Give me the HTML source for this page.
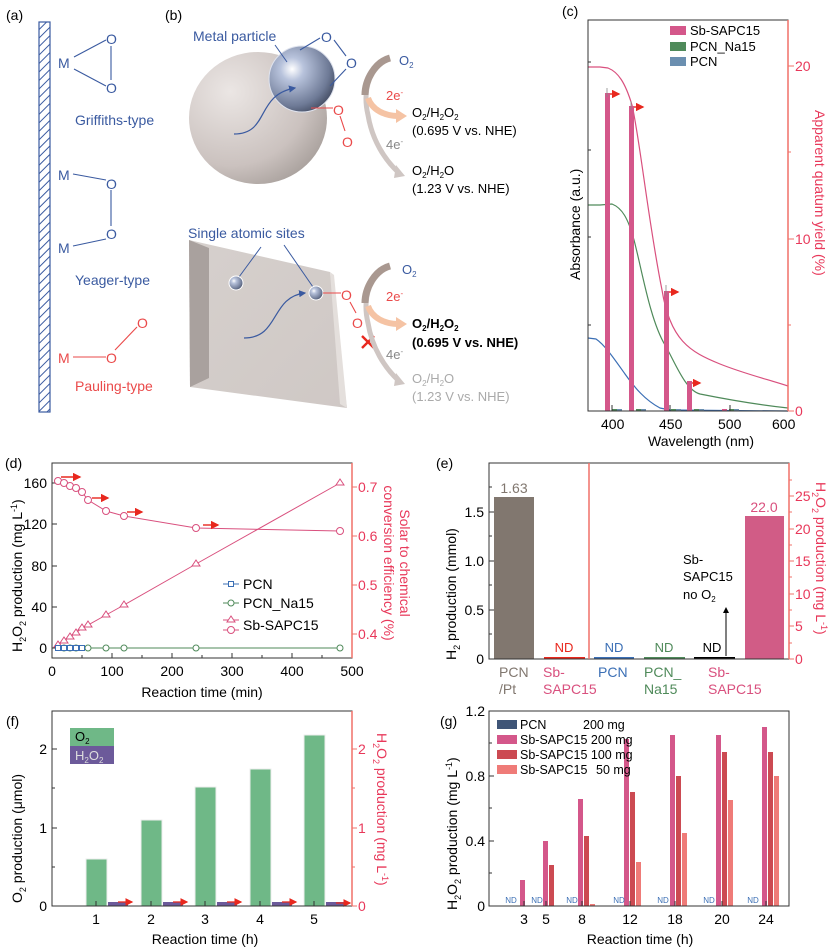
<!DOCTYPE html>
<html><head><meta charset="utf-8"><style>
body{margin:0;background:#fff}
svg{display:block;font-family:"Liberation Sans",Arial,sans-serif}
</style></head><body>
<svg width="838" height="951" viewBox="0 0 838 951" xmlns="http://www.w3.org/2000/svg">
<defs>
<pattern id="hatch" width="6" height="6" patternUnits="userSpaceOnUse" patternTransform="rotate(45)">
<rect width="6" height="6" fill="#fff"/><line x1="0" y1="0" x2="0" y2="6" stroke="#3a5aa0" stroke-width="2"/></pattern>
<radialGradient id="beige" cx="0.3" cy="0.3" r="0.8"><stop offset="0" stop-color="#ebe6e4"/><stop offset="0.7" stop-color="#cbc2bf"/><stop offset="1" stop-color="#a8a09c"/></radialGradient>
<radialGradient id="metal" cx="0.35" cy="0.35" r="0.7"><stop offset="0" stop-color="#ffffff"/><stop offset="0.25" stop-color="#b8c3dc"/><stop offset="0.8" stop-color="#6e7a96"/><stop offset="1" stop-color="#4a536a"/></radialGradient>
<linearGradient id="plate" x1="0" y1="0" x2="1" y2="1"><stop offset="0" stop-color="#d6d0cd"/><stop offset="1" stop-color="#cfc8c5"/></linearGradient>
<marker id="ra" markerWidth="6" markerHeight="6" refX="5" refY="3" orient="auto"><path d="M0,0 L6,3 L0,6 z" fill="#e8281e"/></marker>
<marker id="ka" markerWidth="6" markerHeight="6" refX="5" refY="3" orient="auto"><path d="M0,0 L6,3 L0,6 z" fill="#000"/></marker>
<marker id="ba" markerWidth="6" markerHeight="6" refX="5" refY="3" orient="auto"><path d="M0,0 L6,3 L0,6 z" fill="#3a5aa0"/></marker>
</defs>

<!-- ===== (a) ===== -->
<text x="6" y="20" font-size="14">(a)</text>
<rect x="39" y="22" width="11" height="390" fill="url(#hatch)" stroke="#3a5aa0" stroke-width="1.2"/>
<g fill="#3a5aa0" font-size="14">
<text x="58" y="68">M</text><text x="106" y="44">O</text><text x="106" y="93">O</text>
<text x="58" y="180">M</text><text x="106" y="189">O</text><text x="106" y="239">O</text><text x="58" y="253">M</text>
<text x="75" y="125">Griffiths-type</text><text x="75" y="285">Yeager-type</text>
</g>
<g stroke="#3a5aa0" stroke-width="1.1">
<line x1="74" y1="57" x2="106" y2="40"/><line x1="74" y1="69" x2="106" y2="86"/><line x1="111" y1="46" x2="111" y2="80"/>
<line x1="73" y1="174" x2="106" y2="180"/><line x1="111" y1="190" x2="111" y2="226"/><line x1="73" y1="246" x2="106" y2="239"/>
</g>
<g fill="#ea4a4a" font-size="14"><text x="58" y="363">M</text><text x="106" y="363">O</text><text x="137" y="328">O</text><text x="75" y="391">Pauling-type</text></g>
<g stroke="#ea4a4a" stroke-width="1.1"><line x1="73" y1="357" x2="106" y2="357"/><line x1="115" y1="350" x2="137" y2="327"/></g>

<!-- ===== (b) ===== -->
<text x="165" y="20" font-size="14">(b)</text>
<ellipse cx="258" cy="118" rx="69" ry="66" fill="url(#beige)"/>
<circle cx="302" cy="79" r="33" fill="url(#metal)" stroke="#dfe3ee" stroke-width="1"/>
<text x="193" y="41" font-size="14" fill="#3a5aa0">Metal particle</text>
<line x1="275" y1="45" x2="287" y2="62" stroke="#3a5aa0"/>
<path d="M234,134 C270,134 255,95 295,88" stroke="#3a5aa0" fill="none" stroke-width="1.2" marker-end="url(#ba)"/>
<g fill="#3a5aa0" font-size="14"><text x="321" y="42">O</text><text x="346" y="68">O</text></g>
<g stroke="#3a5aa0" stroke-width="1.1"><line x1="300" y1="50" x2="320" y2="38"/><line x1="334" y1="40" x2="346" y2="56"/><line x1="330" y1="86" x2="346" y2="69"/></g>
<g fill="#ea4a4a" font-size="14"><text x="333" y="115">O</text><text x="342" y="147">O</text></g>
<g stroke="#ea4a4a" stroke-width="1.1"><line x1="311" y1="108" x2="333" y2="108"/><line x1="340" y1="116" x2="345" y2="131"/></g>

<polygon points="189,240 330,272 347,408 190,387" fill="url(#plate)"/>
<polygon points="189,240 209,248 209,378 190,387" fill="#a9a19e"/>
<polygon points="330,272 334,275 347,408 340,404" fill="#e4dfdc"/>
<text x="188" y="238" font-size="14" fill="#3a5aa0">Single atomic sites</text>
<line x1="261" y1="247" x2="239" y2="277" stroke="#3a5aa0"/><line x1="284" y1="245" x2="313" y2="287" stroke="#3a5aa0"/>
<circle cx="236" cy="283" r="7" fill="url(#metal)" stroke="#fff"/>
<circle cx="316" cy="293" r="7" fill="url(#metal)" stroke="#fff"/>
<path d="M244,338 C280,338 270,297 305,293" stroke="#3a5aa0" fill="none" stroke-width="1.2" marker-end="url(#ba)"/>
<g fill="#ea4a4a" font-size="14"><text x="341" y="300">O</text><text x="352" y="328">O</text></g>
<g stroke="#ea4a4a" stroke-width="1.1"><line x1="323" y1="293" x2="341" y2="293"/><line x1="350" y1="302" x2="356" y2="313"/></g>
<g stroke="#e8281e" stroke-width="2.4"><line x1="362" y1="336" x2="374" y2="348"/><line x1="374" y1="336" x2="362" y2="348"/></g>

<g fill="none" stroke-linecap="butt">
<path d="M390,58 C370,65 362,90 368,115 C372,140 385,160 398,172" stroke="#cfc6c3" stroke-width="5"/>
<path d="M390,58 C375,62 365,80 365,95" stroke="#a99890" stroke-width="7"/>
<path d="M368,98 C372,110 385,116 398,116" stroke="#f5c3a4" stroke-width="6"/>
<path d="M390,266 C370,273 362,298 368,323 C372,348 385,368 398,380" stroke="#cfc6c3" stroke-width="5"/>
<path d="M390,266 C375,270 365,288 365,303" stroke="#a99890" stroke-width="7"/>
<path d="M368,306 C372,318 385,324 398,324" stroke="#f5c3a4" stroke-width="6"/>
</g>
<polygon points="396,109 407,116 396,123" fill="#f5c3a4"/><polygon points="396,165 405,176 394,178" fill="#cfc6c3"/>
<polygon points="396,317 407,324 396,331" fill="#f5c3a4"/><polygon points="396,373 405,384 394,386" fill="#cfc6c3"/>
<g font-size="13">
<text x="399" y="65" fill="#3a5aa0">O<tspan font-size="8" dy="3">2</tspan></text>
<text x="386" y="100" fill="#ea4a4a">2e<tspan font-size="8" dy="-5">-</tspan></text>
<text x="386" y="149" fill="#888">4e<tspan font-size="8" dy="-5">-</tspan></text>
<text x="412" y="117">O<tspan font-size="8" dy="3">2</tspan><tspan dy="-3">/H</tspan><tspan font-size="8" dy="3">2</tspan><tspan dy="-3">O</tspan><tspan font-size="8" dy="3">2</tspan></text>
<text x="412" y="135">(0.695 V vs. NHE)</text>
<text x="412" y="175">O<tspan font-size="8" dy="3">2</tspan><tspan dy="-3">/H</tspan><tspan font-size="8" dy="3">2</tspan><tspan dy="-3">O</tspan></text>
<text x="412" y="193">(1.23 V vs. NHE)</text>
<text x="402" y="274" fill="#3a5aa0">O<tspan font-size="8" dy="3">2</tspan></text>
<text x="386" y="301" fill="#ea4a4a">2e<tspan font-size="8" dy="-5">-</tspan></text>
<text x="386" y="359" fill="#888">4e<tspan font-size="8" dy="-5">-</tspan></text>
<text x="412" y="328" font-weight="bold">O<tspan font-size="8" dy="3">2</tspan><tspan dy="-3">/H</tspan><tspan font-size="8" dy="3">2</tspan><tspan dy="-3">O</tspan><tspan font-size="8" dy="3">2</tspan></text>
<text x="412" y="347" font-weight="bold">(0.695 V vs. NHE)</text>
<text x="412" y="383" fill="#aaa">O<tspan font-size="8" dy="3">2</tspan><tspan dy="-3">/H</tspan><tspan font-size="8" dy="3">2</tspan><tspan dy="-3">O</tspan></text>
<text x="412" y="401" fill="#aaa">(1.23 V vs. NHE)</text>
</g>

<!-- ===== (c) ===== -->
<text x="562" y="16" font-size="14">(c)</text>
<g fill="none" stroke-width="1.2">
<path d="M588,67 L600,67 608,68 C618,72 625,82 632,105 C640,140 648,220 662,290 C670,340 690,352 720,364 C745,374 770,380 788,386" stroke="#d9507e"/>
<path d="M588,205 L600,205 612,204 C622,208 628,218 634,240 C642,270 650,320 665,345 C675,362 685,390 700,394 C730,400 760,405 788,408" stroke="#4f8a5a"/>
<path d="M588,338 L596,339 C605,345 615,360 625,374 C635,388 645,400 660,408 L670,410 788,411" stroke="#3b6fb5"/>
</g>
<g fill="#d4578a">
<rect x="605" y="93" width="5" height="318"/><rect x="629" y="106" width="5" height="305"/>
<rect x="664" y="291" width="5" height="120"/><rect x="687" y="381" width="5" height="30"/><rect x="722" y="409" width="5" height="2"/>
</g>
<g fill="#4f8a5a"><rect x="612" y="409" width="5" height="2"/><rect x="636" y="409" width="5" height="2"/><rect x="671" y="409" width="5" height="2"/><rect x="694" y="409" width="5" height="2"/><rect x="729" y="409" width="5" height="2"/></g>
<g fill="#6b8fb0"><rect x="617" y="409" width="5" height="2"/><rect x="641" y="409" width="5" height="2"/><rect x="676" y="409" width="5" height="2"/><rect x="699" y="409" width="5" height="2"/><rect x="734" y="409" width="5" height="2"/></g>
<g stroke="#888" stroke-width="0.8"><line x1="607" y1="88" x2="607" y2="97"/><line x1="631" y1="101" x2="631" y2="110"/><line x1="666" y1="285" x2="666" y2="296"/></g>
<g stroke="#e8281e" stroke-width="1.4" marker-end="url(#ra)">
<line x1="610" y1="94" x2="619" y2="94"/><line x1="634" y1="107" x2="643" y2="107"/><line x1="669" y1="292" x2="678" y2="292"/><line x1="692" y1="383" x2="700" y2="383"/>
</g>
<rect x="588" y="20" width="200" height="391" fill="none" stroke="#333" stroke-width="1"/>
<line x1="788" y1="20" x2="788" y2="411" stroke="#f07068" stroke-width="1.5"/>
<g stroke="#f07068"><line x1="788" y1="66" x2="794" y2="66"/><line x1="788" y1="239" x2="794" y2="239"/><line x1="788" y1="411" x2="794" y2="411"/><line x1="788" y1="152" x2="791" y2="152"/><line x1="788" y1="325" x2="791" y2="325"/></g>
<g stroke="#333"><line x1="612" y1="411" x2="612" y2="405"/><line x1="670" y1="411" x2="670" y2="405"/><line x1="730" y1="411" x2="730" y2="405"/>
<line x1="588" y1="62" x2="591" y2="62"/><line x1="588" y1="150" x2="591" y2="150"/><line x1="588" y1="237" x2="591" y2="237"/><line x1="588" y1="325" x2="591" y2="325"/></g>
<g font-size="14" fill="#e8385a"><text x="795" y="71">20</text><text x="795" y="244">10</text><text x="795" y="416">0</text></g>
<text transform="translate(815,110) rotate(90)" font-size="14" fill="#e8385a">Apparent quatum yield (%)</text>
<text transform="translate(580,280) rotate(-90)" font-size="14">Absorbance (a.u.)</text>
<g font-size="14"><text x="601" y="429">400</text><text x="659" y="429">450</text><text x="718" y="429">500</text><text x="772" y="429">600</text>
<text x="648" y="446">Wavelength (nm)</text></g>
<rect x="670" y="26" width="16" height="9" fill="#d4578a"/><rect x="670" y="42" width="16" height="9" fill="#4f8a5a"/><rect x="670" y="57" width="16" height="9" fill="#6b8fb0"/>
<g font-size="13"><text x="690" y="35">Sb-SAPC15</text><text x="690" y="51">PCN_Na15</text><text x="690" y="66">PCN</text></g>

<!-- ===== (d) ===== -->
<text x="5" y="468" font-size="14">(d)</text>
<rect x="52" y="463" width="300" height="195" fill="none" stroke="#333"/>
<line x1="352" y1="463" x2="352" y2="658" stroke="#f07068" stroke-width="1.5"/>
<g stroke="#333"><line x1="52" y1="648" x2="57" y2="648"/><line x1="52" y1="607" x2="57" y2="607"/><line x1="52" y1="566" x2="57" y2="566"/><line x1="52" y1="524" x2="57" y2="524"/><line x1="52" y1="483" x2="57" y2="483"/>
<line x1="52" y1="658" x2="52" y2="653"/><line x1="112" y1="658" x2="112" y2="653"/><line x1="172" y1="658" x2="172" y2="653"/><line x1="232" y1="658" x2="232" y2="653"/><line x1="292" y1="658" x2="292" y2="653"/>
<line x1="82" y1="658" x2="82" y2="655"/><line x1="142" y1="658" x2="142" y2="655"/><line x1="202" y1="658" x2="202" y2="655"/><line x1="262" y1="658" x2="262" y2="655"/><line x1="322" y1="658" x2="322" y2="655"/></g>
<g stroke="#f07068"><line x1="352" y1="634" x2="357" y2="634"/><line x1="352" y1="585" x2="357" y2="585"/><line x1="352" y1="536" x2="357" y2="536"/><line x1="352" y1="487" x2="357" y2="487"/></g>
<g font-size="14" text-anchor="end"><text x="47" y="653">0</text><text x="47" y="612">40</text><text x="47" y="571">80</text><text x="47" y="529">120</text><text x="47" y="488">160</text></g>
<g font-size="14" fill="#e8385a"><text x="358" y="639">0.4</text><text x="358" y="590">0.5</text><text x="358" y="541">0.6</text><text x="358" y="492">0.7</text></g>
<g font-size="14" text-anchor="middle"><text x="52" y="676">0</text><text x="112" y="676">100</text><text x="172" y="676">200</text><text x="232" y="676">300</text><text x="292" y="676">400</text><text x="352" y="676">500</text>
<text x="202" y="697">Reaction time (min)</text></g>
<text transform="translate(22,652) rotate(-90)" font-size="14">H<tspan font-size="9" dy="4">2</tspan><tspan dy="-4">O</tspan><tspan font-size="9" dy="4">2</tspan><tspan dy="-4"> production (mg L</tspan><tspan font-size="9" dy="-5">-1</tspan><tspan dy="5">)</tspan></text>
<text transform="translate(400,563) rotate(90)" font-size="14" fill="#e8385a" text-anchor="middle">Solar to chemical</text>
<text transform="translate(384,563) rotate(90)" font-size="14" fill="#e8385a" text-anchor="middle">conversion efficiency (%)</text>
<polyline points="58,645 64,641 70,637 76,633 82,628 88,625 106,615 124,605 196,564 340,483" fill="none" stroke="#d9507e"/>
<g fill="#fff" stroke="#d9507e"><path d="M58,641 l4,6 h-8z"/><path d="M64,637 l4,6 h-8z"/><path d="M70,633 l4,6 h-8z"/><path d="M76,629 l4,6 h-8z"/><path d="M82,624 l4,6 h-8z"/><path d="M88,621 l4,6 h-8z"/><path d="M106,611 l4,6 h-8z"/><path d="M124,601 l4,6 h-8z"/><path d="M196,560 l4,6 h-8z"/><path d="M340,479 l4,6 h-8z"/></g>
<polyline points="58,481 64,483 70,486 76,488 82,492 88,500 106,511 124,516 196,528 340,531" fill="none" stroke="#d9507e"/>
<g fill="#fff" stroke="#d9507e"><circle cx="58" cy="481" r="3.5"/><circle cx="64" cy="483" r="3.5"/><circle cx="70" cy="486" r="3.5"/><circle cx="76" cy="488" r="3.5"/><circle cx="82" cy="492" r="3.5"/><circle cx="88" cy="500" r="3.5"/><circle cx="106" cy="511" r="3.5"/><circle cx="124" cy="516" r="3.5"/><circle cx="196" cy="528" r="3.5"/><circle cx="340" cy="531" r="3.5"/></g>
<line x1="58" y1="648" x2="340" y2="648" stroke="#4f8a5a"/>
<g fill="#fff" stroke="#4f8a5a"><circle cx="64" cy="648" r="3"/><circle cx="70" cy="648" r="3"/><circle cx="76" cy="648" r="3"/><circle cx="88" cy="648" r="3"/><circle cx="106" cy="648" r="3"/><circle cx="124" cy="648" r="3"/><circle cx="196" cy="648" r="3"/><circle cx="340" cy="648" r="3"/></g>
<g fill="#fff" stroke="#3b6fb5"><rect x="55.5" y="645.5" width="5" height="5"/><rect x="61.5" y="645.5" width="5" height="5"/><rect x="67.5" y="645.5" width="5" height="5"/><rect x="73.5" y="645.5" width="5" height="5"/><rect x="79.5" y="645.5" width="5" height="5"/></g>
<g stroke="#e8281e" stroke-width="1.4" marker-end="url(#ra)"><line x1="61" y1="477" x2="80" y2="477"/><line x1="92" y1="498" x2="108" y2="498"/><line x1="127" y1="512" x2="142" y2="512"/><line x1="203" y1="525" x2="218" y2="525"/></g>
<line x1="223" y1="584" x2="239" y2="584" stroke="#3b6fb5"/><rect x="228.5" y="581.5" width="5" height="5" fill="#fff" stroke="#3b6fb5"/>
<line x1="223" y1="603" x2="239" y2="603" stroke="#4f8a5a"/><circle cx="231" cy="603" r="3" fill="#fff" stroke="#4f8a5a"/>
<line x1="223" y1="620" x2="239" y2="620" stroke="#d9507e"/><path d="M231,616 l4,6 h-8z" fill="#fff" stroke="#d9507e"/>
<line x1="223" y1="630" x2="239" y2="630" stroke="#d9507e"/><circle cx="231" cy="630" r="3.5" fill="#fff" stroke="#d9507e"/>
<g font-size="14"><text x="243" y="589">PCN</text><text x="243" y="608">PCN_Na15</text><text x="243" y="630">Sb-SAPC15</text></g>

<!-- ===== (e) ===== -->
<text x="436" y="468" font-size="14">(e)</text>
<rect x="494" y="497" width="40" height="162" fill="#81776f"/>
<rect x="544" y="657" width="41" height="2" fill="#e8281e"/>
<rect x="594" y="657" width="40" height="2" fill="#3b6fb5"/>
<rect x="644" y="657" width="41" height="2" fill="#4f8a5a"/>
<rect x="694" y="657" width="41" height="2" fill="#000"/>
<rect x="745" y="516" width="39" height="143" fill="#d15c86"/>
<rect x="489" y="463" width="300" height="196" fill="none" stroke="#333"/>
<line x1="589" y1="463" x2="589" y2="659" stroke="#f07068" stroke-width="1.5"/>
<line x1="789" y1="463" x2="789" y2="659" stroke="#f07068" stroke-width="1.5"/>
<g stroke="#333"><line x1="489" y1="659" x2="494" y2="659"/><line x1="489" y1="610" x2="494" y2="610"/><line x1="489" y1="561" x2="494" y2="561"/><line x1="489" y1="512" x2="494" y2="512"/><line x1="489" y1="634" x2="492" y2="634"/><line x1="489" y1="585" x2="492" y2="585"/><line x1="489" y1="536" x2="492" y2="536"/><line x1="489" y1="487" x2="492" y2="487"/></g>
<g stroke="#f07068"><line x1="789" y1="659" x2="794" y2="659"/><line x1="789" y1="626" x2="794" y2="626"/><line x1="789" y1="594" x2="794" y2="594"/><line x1="789" y1="561" x2="794" y2="561"/><line x1="789" y1="529" x2="794" y2="529"/><line x1="789" y1="496" x2="794" y2="496"/>
<line x1="789" y1="643" x2="792" y2="643"/><line x1="789" y1="610" x2="792" y2="610"/><line x1="789" y1="577" x2="792" y2="577"/><line x1="789" y1="545" x2="792" y2="545"/><line x1="789" y1="512" x2="792" y2="512"/><line x1="789" y1="480" x2="792" y2="480"/></g>
<g font-size="14" text-anchor="end"><text x="484" y="664">0</text><text x="484" y="615">0.5</text><text x="484" y="566">1.0</text><text x="484" y="517">1.5</text></g>
<g font-size="14" fill="#e8385a"><text x="795" y="664">0</text><text x="795" y="631">5</text><text x="795" y="599">10</text><text x="795" y="566">15</text><text x="795" y="534">20</text><text x="795" y="501">25</text></g>
<text transform="translate(456,660) rotate(-90)" font-size="14">H<tspan font-size="9" dy="4">2</tspan><tspan dy="-4"> production (mmol)</tspan></text>
<text transform="translate(816,482) rotate(90)" font-size="14" fill="#e8385a">H<tspan font-size="9" dy="4">2</tspan><tspan dy="-4">O</tspan><tspan font-size="9" dy="4">2</tspan><tspan dy="-4"> production (mg L</tspan><tspan font-size="9" dy="-5">-1</tspan><tspan dy="5">)</tspan></text>
<text x="514" y="493" font-size="14" fill="#81776f" text-anchor="middle">1.63</text>
<text x="764" y="512" font-size="14" fill="#d9507e" text-anchor="middle">22.0</text>
<g font-size="13" text-anchor="middle"><text x="564" y="652" fill="#e8281e">ND</text><text x="614" y="652" fill="#3b6fb5">ND</text><text x="664" y="652" fill="#4f8a5a">ND</text><text x="712" y="652">ND</text></g>
<line x1="726" y1="656" x2="726" y2="608" stroke="#000" marker-end="url(#ka)"/>
<g font-size="13"><text x="683" y="564">Sb-</text><text x="683" y="581">SAPC15</text><text x="683" y="599">no O<tspan font-size="8" dy="3">2</tspan></text></g>
<g font-size="14"><text x="499" y="677" fill="#81776f">PCN</text><text x="499" y="694" fill="#81776f">/Pt</text>
<text x="543" y="677" fill="#d9507e">Sb-</text><text x="543" y="694" fill="#d9507e">SAPC15</text>
<text x="598" y="677" fill="#3b6fb5">PCN</text>
<text x="644" y="677" fill="#4f8a5a">PCN_</text><text x="644" y="694" fill="#4f8a5a">Na15</text>
<text x="708" y="677" fill="#d9507e">Sb-</text><text x="708" y="694" fill="#d9507e">SAPC15</text></g>

<!-- ===== (f) ===== -->
<text x="6" y="726" font-size="14">(f)</text>
<g fill="#6fb887" stroke="#eee"><rect x="86" y="859" width="21" height="47"/><rect x="141" y="820" width="21" height="86"/><rect x="195" y="787" width="21" height="119"/><rect x="250" y="769" width="21" height="137"/><rect x="304" y="735" width="21" height="171"/></g>
<g fill="#6c5a9a"><rect x="108" y="902" width="20" height="4"/><rect x="163" y="902" width="20" height="4"/><rect x="217" y="902" width="20" height="4"/><rect x="272" y="902" width="20" height="4"/><rect x="326" y="902" width="20" height="4"/></g>
<g stroke="#e8281e" stroke-width="1.3" marker-end="url(#ra)"><line x1="118" y1="902" x2="132" y2="902"/><line x1="173" y1="902" x2="187" y2="902"/><line x1="227" y1="902" x2="241" y2="902"/><line x1="282" y1="902" x2="296" y2="902"/><line x1="336" y1="903" x2="350" y2="903"/></g>
<rect x="52" y="711" width="300" height="195" fill="none" stroke="#333"/>
<line x1="352" y1="711" x2="352" y2="906" stroke="#f07068" stroke-width="1.5"/>
<g stroke="#333"><line x1="52" y1="906" x2="57" y2="906"/><line x1="52" y1="828" x2="57" y2="828"/><line x1="52" y1="749" x2="57" y2="749"/><line x1="52" y1="867" x2="55" y2="867"/><line x1="52" y1="788" x2="55" y2="788"/>
<line x1="96" y1="906" x2="96" y2="901"/><line x1="151" y1="906" x2="151" y2="901"/><line x1="205" y1="906" x2="205" y2="901"/><line x1="260" y1="906" x2="260" y2="901"/><line x1="314" y1="906" x2="314" y2="901"/></g>
<g stroke="#f07068"><line x1="352" y1="906" x2="357" y2="906"/><line x1="352" y1="828" x2="357" y2="828"/><line x1="352" y1="749" x2="357" y2="749"/><line x1="352" y1="867" x2="355" y2="867"/><line x1="352" y1="788" x2="355" y2="788"/></g>
<g font-size="14" text-anchor="end"><text x="47" y="911">0</text><text x="47" y="833">1</text><text x="47" y="754">2</text></g>
<g font-size="14" fill="#e8385a"><text x="358" y="911">0</text><text x="358" y="833">1</text><text x="358" y="754">2</text></g>
<g font-size="14" text-anchor="middle"><text x="96" y="924">1</text><text x="151" y="924">2</text><text x="205" y="924">3</text><text x="260" y="924">4</text><text x="314" y="924">5</text><text x="205" y="944">Reaction time (h)</text></g>
<text transform="translate(22,903) rotate(-90)" font-size="14">O<tspan font-size="9" dy="4">2</tspan><tspan dy="-4"> production (μmol)</tspan></text>
<text transform="translate(377,733) rotate(90)" font-size="14" fill="#e8385a">H<tspan font-size="9" dy="4">2</tspan><tspan dy="-4">O</tspan><tspan font-size="9" dy="4">2</tspan><tspan dy="-4"> production (mg L</tspan><tspan font-size="9" dy="-5">-1</tspan><tspan dy="5">)</tspan></text>
<rect x="70" y="728" width="44" height="18" fill="#6fb887"/><rect x="70" y="746" width="44" height="18" fill="#6c5a9a"/>
<text x="75" y="741" font-size="13">O<tspan font-size="8" dy="3">2</tspan></text>
<text x="75" y="760" font-size="13" fill="#ddd">H<tspan font-size="8" dy="3">2</tspan><tspan dy="-3">O</tspan><tspan font-size="8" dy="3">2</tspan></text>

<!-- ===== (g) ===== -->
<text x="440" y="726" font-size="14">(g)</text>
<g fill="#d4578a"><rect x="520" y="880" width="5" height="26"/><rect x="543" y="841" width="5" height="65"/><rect x="578" y="799" width="5" height="107"/><rect x="624" y="739" width="5" height="167"/><rect x="670" y="735" width="5" height="171"/><rect x="716" y="735" width="5" height="171"/><rect x="762" y="727" width="5" height="179"/></g>
<g fill="#cc4a52"><rect x="549" y="865" width="5" height="41"/><rect x="584" y="836" width="5" height="70"/><rect x="630" y="792" width="5" height="114"/><rect x="676" y="776" width="5" height="130"/><rect x="722" y="752" width="5" height="154"/><rect x="768" y="752" width="5" height="154"/></g>
<g fill="#ef7b78"><rect x="590" y="904" width="5" height="2"/><rect x="636" y="862" width="5" height="44"/><rect x="682" y="833" width="5" height="73"/><rect x="728" y="800" width="5" height="106"/><rect x="774" y="776" width="5" height="130"/></g>
<rect x="489" y="711" width="300" height="195" fill="none" stroke="#333"/>
<g stroke="#333"><line x1="489" y1="906" x2="494" y2="906"/><line x1="489" y1="841" x2="494" y2="841"/><line x1="489" y1="776" x2="494" y2="776"/><line x1="489" y1="873" x2="492" y2="873"/><line x1="489" y1="808" x2="492" y2="808"/><line x1="489" y1="743" x2="492" y2="743"/>
<line x1="524" y1="906" x2="524" y2="901"/><line x1="546" y1="906" x2="546" y2="901"/><line x1="582" y1="906" x2="582" y2="901"/><line x1="630" y1="906" x2="630" y2="901"/><line x1="675" y1="906" x2="675" y2="901"/><line x1="722" y1="906" x2="722" y2="901"/><line x1="766" y1="906" x2="766" y2="901"/></g>
<g font-size="14" text-anchor="end"><text x="485" y="911">0</text><text x="485" y="846">0.4</text><text x="485" y="781">0.8</text><text x="485" y="716">1.2</text></g>
<g font-size="14" text-anchor="middle"><text x="524" y="924">3</text><text x="546" y="924">5</text><text x="582" y="924">8</text><text x="630" y="924">12</text><text x="675" y="924">18</text><text x="722" y="924">20</text><text x="766" y="924">24</text><text x="640" y="944">Reaction time (h)</text></g>
<g font-size="8" fill="#3b6fb5" text-anchor="middle"><text x="511" y="903">ND</text><text x="537" y="903">ND</text><text x="572" y="903">ND</text><text x="619" y="903">ND</text><text x="663" y="903">ND</text><text x="709" y="903">ND</text><text x="753" y="903">ND</text></g>
<text transform="translate(457,910) rotate(-90)" font-size="14">H<tspan font-size="9" dy="4">2</tspan><tspan dy="-4">O</tspan><tspan font-size="9" dy="4">2</tspan><tspan dy="-4"> production (mg L</tspan><tspan font-size="9" dy="-5">-1</tspan><tspan dy="5">)</tspan></text>
<rect x="497" y="720" width="20" height="9" fill="#3f5577"/><rect x="497" y="735" width="20" height="9" fill="#d4578a"/><rect x="497" y="750" width="20" height="9" fill="#cc4a52"/><rect x="497" y="765" width="20" height="9" fill="#ef7b78"/>
<g font-size="12.5"><text x="520" y="729">PCN</text><text x="583" y="729">200 mg</text><text x="520" y="744">Sb-SAPC15 200 mg</text><text x="520" y="759">Sb-SAPC15 100 mg</text><text x="520" y="774">Sb-SAPC15</text><text x="596" y="774">50 mg</text></g>
</svg>
</body></html>
